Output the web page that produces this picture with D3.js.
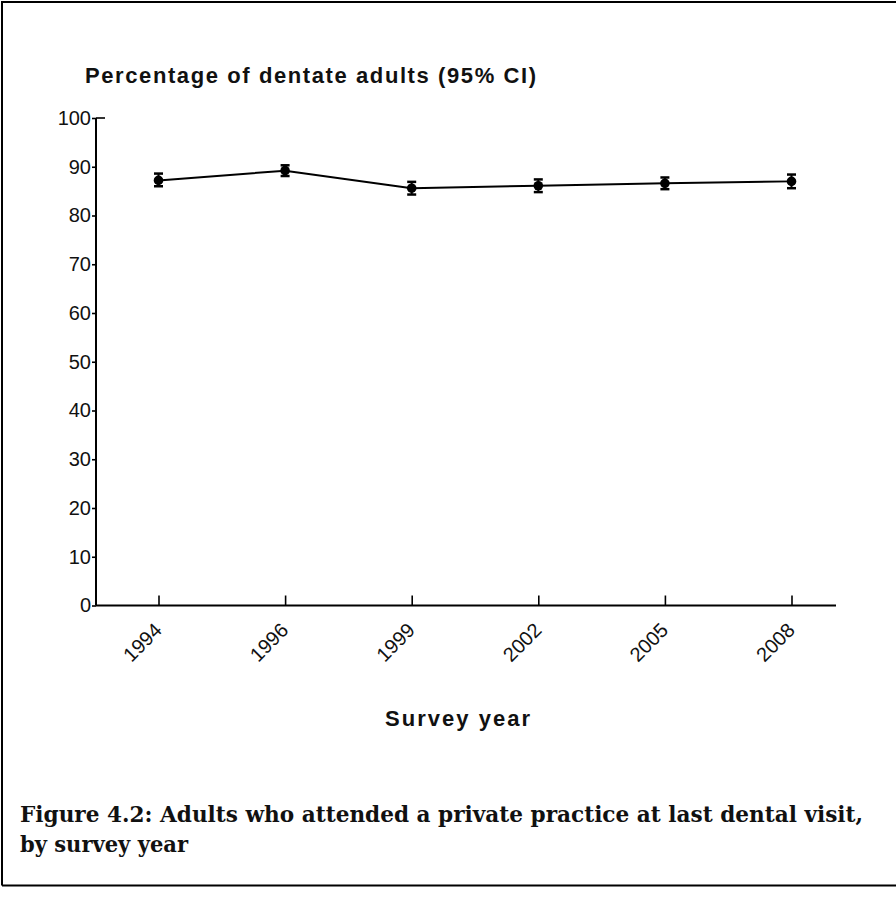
<!DOCTYPE html>
<html>
<head>
<meta charset="utf-8">
<script src="https://cdn.jsdelivr.net/npm/d3@7"></script>
<style>
  body { margin: 0; background: #fff; }
  svg { display: block; }
</style>
</head>
<body>
<div id="chart"></div>
<script>
// data
const years = ["1994", "1996", "1999", "2002", "2005", "2008"];
const pct = [87.2, 89.2, 85.6, 86.1, 86.6, 87.0];
const lower = [86.0, 88.1, 84.3, 84.8, 85.4, 85.6];
const upper = [88.6, 90.3, 86.9, 87.4, 87.8, 88.4];
const yTicks = [0, 10, 20, 30, 40, 50, 60, 70, 80, 90, 100];

const data = years.map((d, i) => ({year: d, v: pct[i], lo: lower[i], hi: upper[i]}));

const W = 896, H = 897;
const sans = "'Liberation Sans', Arial, sans-serif";
const serif = "'DejaVu Serif', 'Liberation Serif', serif";

const svg = d3.select("#chart")
  .append("svg")
    .attr("width", W)
    .attr("height", H);

// outer frame (right edge runs off the page)
svg.append("path")
  .attr("d", `M2,885.5 L2,2 L${W + 5},2 M2,885.5 L${W + 5},885.5`)
  .attr("fill", "none")
  .attr("stroke", "#000")
  .attr("stroke-width", 2);

// scales
const x = d3.scalePoint()
  .domain(years)
  .range([158.5, 791.5]);

const y = d3.scaleLinear()
  .domain([0, 100])
  .range([605.5, 118]);

const axisX0 = 96, axisX1 = 836;

// y axis
const yAxis = svg.append("g")
  .attr("transform", `translate(${axisX0},0)`)
  .call(d3.axisLeft(y).tickValues(yTicks).tickSizeInner(4).tickSizeOuter(0).tickPadding(1));
yAxis.select(".domain").remove();
yAxis.selectAll(".tick line").attr("stroke", "#000").attr("stroke-width", 1.6);
yAxis.selectAll(".tick text")
  .attr("font-family", sans)
  .attr("font-size", 20)
  .attr("fill", "#111");

svg.append("line")
  .attr("x1", axisX0).attr("x2", axisX0)
  .attr("y1", y(100)).attr("y2", y(0))
  .attr("stroke", "#000").attr("stroke-width", 2);
// small cap at the top of the y axis
svg.append("line")
  .attr("x1", axisX0).attr("x2", axisX0 + 9)
  .attr("y1", y(100)).attr("y2", y(100))
  .attr("stroke", "#000").attr("stroke-width", 1.6);

// x axis
svg.append("line")
  .attr("x1", axisX0).attr("x2", axisX1)
  .attr("y1", y(0)).attr("y2", y(0))
  .attr("stroke", "#000").attr("stroke-width", 2);

const xAxis = svg.append("g")
  .attr("transform", `translate(0,${y(0)})`)
  .call(d3.axisBottom(x).tickSizeInner(-10).tickSizeOuter(0));
xAxis.select(".domain").remove();
xAxis.selectAll(".tick line").attr("stroke", "#000").attr("stroke-width", 1.6);
xAxis.selectAll(".tick text")
  .attr("font-family", sans)
  .attr("font-size", 20)
  .attr("fill", "#111")
  .attr("text-anchor", "end")
  .attr("dy", null)
  .attr("y", null)
  .attr("transform", "translate(4,26)rotate(-45)");

// line
svg.append("path")
  .datum(data)
  .attr("fill", "none")
  .attr("stroke", "#000")
  .attr("stroke-width", 2)
  .attr("d", d3.line().x(d => x(d.year)).y(d => y(d.v)));

// error bars
const eb = svg.selectAll(".eb")
  .data(data)
  .join("g")
    .attr("class", "eb");
eb.append("line")
  .attr("x1", d => x(d.year)).attr("x2", d => x(d.year))
  .attr("y1", d => y(d.hi)).attr("y2", d => y(d.lo))
  .attr("stroke", "#000").attr("stroke-width", 2);
eb.append("line")
  .attr("x1", d => x(d.year) - 4.5).attr("x2", d => x(d.year) + 4.5)
  .attr("y1", d => y(d.hi)).attr("y2", d => y(d.hi))
  .attr("stroke", "#000").attr("stroke-width", 2.5);
eb.append("line")
  .attr("x1", d => x(d.year) - 4.5).attr("x2", d => x(d.year) + 4.5)
  .attr("y1", d => y(d.lo)).attr("y2", d => y(d.lo))
  .attr("stroke", "#000").attr("stroke-width", 2.5);

// points
svg.selectAll(".pt")
  .data(data)
  .join("circle")
    .attr("class", "pt")
    .attr("cx", d => x(d.year))
    .attr("cy", d => y(d.v))
    .attr("r", 4.8)
    .attr("fill", "#000");

// titles
svg.append("text")
  .attr("x", 85).attr("y", 83)
  .attr("font-family", sans)
  .attr("font-weight", "bold")
  .attr("font-size", 22)
  .attr("textLength", 451)
  .attr("lengthAdjust", "spacing")
  .attr("fill", "#111")
  .text("Percentage of dentate adults (95% CI)");

svg.append("text")
  .attr("x", 385).attr("y", 726)
  .attr("font-family", sans)
  .attr("font-weight", "bold")
  .attr("font-size", 22)
  .attr("textLength", 145)
  .attr("lengthAdjust", "spacing")
  .attr("fill", "#111")
  .text("Survey year");

// caption
const caption = svg.append("g")
  .attr("font-family", serif)
  .attr("font-weight", "bold")
  .attr("font-size", 22)
  .attr("fill", "#111");
caption.append("text")
  .attr("x", 20).attr("y", 822)
  .attr("textLength", 843)
  .attr("lengthAdjust", "spacingAndGlyphs")
  .text("Figure 4.2: Adults who attended a private practice at last dental visit,");
caption.append("text")
  .attr("x", 20).attr("y", 852)
  .attr("textLength", 168)
  .attr("lengthAdjust", "spacingAndGlyphs")
  .text("by survey year");
</script>
</body>
</html>
